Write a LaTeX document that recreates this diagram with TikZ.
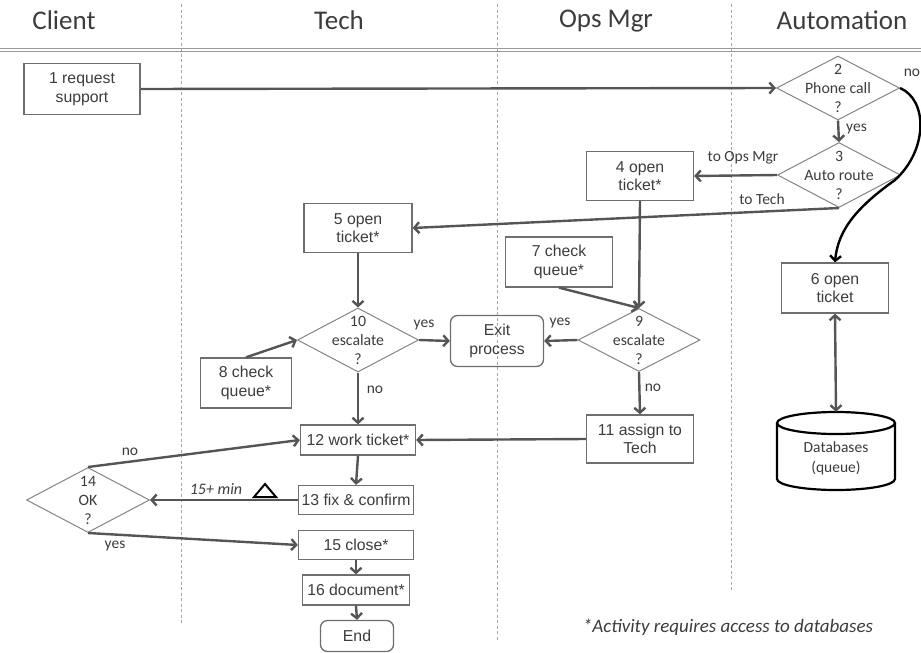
\documentclass[tikz,border=0pt]{standalone}
\usepackage{fontspec}
\setmainfont{Liberation Sans}
\newfontfamily\calfont{Carlito}
\usetikzlibrary{shapes.geometric,arrows.meta}
\definecolor{ln}{HTML}{555555}
\definecolor{bx}{HTML}{6E6E6E}
\definecolor{tx}{HTML}{3C3C3C}
\tikzset{
  box/.style={draw=bx, line width=1.3pt, inner sep=0pt, align=center, text=tx,
    font=\fontsize{15.8}{18.5}\selectfont},
  rbox/.style={box, rounded corners=7pt},
  dec/.style={diamond, draw=bx!85, line width=1pt, inner sep=0pt},
  dtext/.style={align=center, text=tx, inner sep=0pt, font=\calfont\fontsize{15.8}{19}\selectfont},
  flow/.style={draw=ln, line width=2.4pt, -{Straight Barb[length=5pt,width=11pt]}},
  both/.style={draw=ln, line width=2.4pt, {Straight Barb[length=5pt,width=11pt]}-{Straight Barb[length=5pt,width=11pt]}},
  lbl/.style={text=tx, font=\calfont\fontsize{15.5}{18}\selectfont, inner sep=1pt},
  lane/.style={draw=gray!70, line width=0.8pt, dash pattern=on 3pt off 2.5pt},
  head/.style={text=tx, font=\calfont\fontsize{27}{30}\selectfont},
}
\begin{document}
\begin{tikzpicture}[x=1pt,y=-1pt]
\useasboundingbox (0,0) rectangle (921,653);

% swimlane headers and dividers
\node[head] (hclient) at (64,20) {Client};
\node[head] (htech) at (339,20) {Tech};
\node[head] (hops) at (606,21) {Ops Mgr};
\node[head] (hauto) at (842,20) {Automation};
\draw[gray!80, line width=0.9pt] (0,48.5) -- (921,48.5);
\draw[gray!80, line width=0.9pt] (0,51.5) -- (921,51.5);
\draw[lane] (181,4) -- (181,623);
\draw[lane] (497,4) -- (497,640);
\draw[lane] (731,4) -- (731,590);

% activities
\node[box, minimum width=116, minimum height=51] (o1) at (82,89) {1 request\\support};
\node[box, minimum width=107, minimum height=49] (o4) at (640,176) {4 open\\ticket*};
\node[box, minimum width=108, minimum height=49] (o5) at (358,228) {5 open\\ticket*};
\node[box, minimum width=107, minimum height=50] (o6) at (835,288) {6 open\\ticket};
\node[box, minimum width=107, minimum height=50] (o7) at (559,262) {7 check\\queue*};
\node[box, minimum width=91, minimum height=50] (o8) at (246,383) {8 check\\queue*};
\node[rbox, minimum width=93, minimum height=51] (exit) at (497,341) {Exit\\process};
\node[box, minimum width=107, minimum height=48] (o11) at (640,439) {11 assign to\\Tech};
\node[box, minimum width=115, minimum height=30] (o12) at (358,440) {12 work ticket*};
\node[box, minimum width=115, minimum height=29] (o13) at (356,500) {13 fix \& confirm};
\node[box, minimum width=115, minimum height=29] (o15) at (356,545) {15 close*};
\node[box, minimum width=107, minimum height=30] (o16) at (356,590) {16 document*};
\node[rbox, minimum width=73, minimum height=31] (oend) at (357,636) {End};

% decisions
\node[dec, minimum width=123, minimum height=64] (d2) at (838,88) {};
\node[dtext] (d2t) at (d2) {2\\Phone call\\?};
\node[dec, minimum width=123, minimum height=65] (d3) at (839,175) {};
\node[dtext] (d3t) at (d3) {3\\Auto route\\?};
\node[dec, minimum width=121, minimum height=64] (d10) at (358,340) {};
\node[dtext] (d10t) at (d10) {10\\escalate\\?};
\node[dec, minimum width=122, minimum height=63] (d9) at (639,340) {};
\node[dtext] (d9t) at (d9) {9\\escalate\\?};
\node[dec, minimum width=123, minimum height=65] (d14) at (88,500) {};
\node[dtext] (d14t) at (d14) {14\\OK\\?};

% database
\node[minimum width=118, minimum height=78, inner sep=0pt] (db) at (836,451) {};
\draw[black, line width=2.2pt] (836,423) ellipse [x radius=59, y radius=11];
\draw[black, line width=2.2pt] (777,423) -- (777,479)
  .. controls (777,485.1) and (803.4,490) .. (836,490)
  .. controls (868.6,490) and (895,485.1) .. (895,479) -- (895,423);
\node[align=center, text=tx, font=\calfont\fontsize{15.5}{20}\selectfont] (dbt) at (836,458) {Databases\\(queue)};

% connectors
\draw[flow] (o1.east) -- (d2.west);
\draw[flow] (d2.south) -- (d3.north);
\node[lbl, anchor=west] (lyes2) at (845,129) {yes};
\node[lbl] (lno2) at (912,73) {no};
\draw[black, line width=2.4pt, -{Straight Barb[length=5pt,width=11pt]}]
  (d2.east) .. controls (928,100) and (928,150) .. (895,180)
  .. controls (860,205) and (838,228) .. (o6.north);
\draw[flow] (d3.west) -- (o4.east);
\node[lbl] (lops) at (743,158) {to Ops Mgr};
\draw[flow] (d3.south) -- (o5.east);
\node[lbl] (ltech) at (762,199) {to Tech};
\draw[both] (o6.south) -- (db.north);
\draw[flow] (o4.south) -- (d9.north);
\draw[flow] (o7.south) -- (d9.north);
\draw[flow] (o5.south) -- (d10.north);
\draw[flow] (o8.north) -- (d10.west);
\draw[flow] (d10.east) -- (exit.west);
\node[lbl] (lyes10) at (424,325) {yes};
\draw[flow] (d9.west) -- (exit.east);
\node[lbl] (lyes9) at (560,323) {yes};
\draw[flow] (d10.south) -- (o12.north);
\node[lbl] (lno10) at (375,390) {no};
\draw[flow] (d9.south) -- (o11.north);
\node[lbl] (lno9) at (653,388) {no};
\draw[flow] (o11.west) -- (o12.west -| o12.east);
\draw[flow] (o12.south) -- (o13.north);
\draw[flow] (o13.west) -- (d14.east);
\node[lbl, font=\calfont\itshape\fontsize{16}{18}\selectfont] (lmin) at (216,489) {15+ min};
\draw[black, line width=2pt, line join=miter] (254,497) -- (276,497) -- (265,484) -- cycle;
\draw[flow] (d14.north) -- (o12.west);
\node[lbl] (lno14) at (130,452) {no};
\draw[flow] (d14.south) -- (o15.west);
\node[lbl] (lyes14) at (115,546) {yes};
\draw[flow] (o15.south) -- (o16.north);
\draw[flow] (o16.south) -- (oend.north);

% footnote
\node[text=tx, font=\calfont\itshape\fontsize{19}{22}\selectfont] (note) at (728,627)
  {*Activity requires access to databases};
\end{tikzpicture}
\end{document}
